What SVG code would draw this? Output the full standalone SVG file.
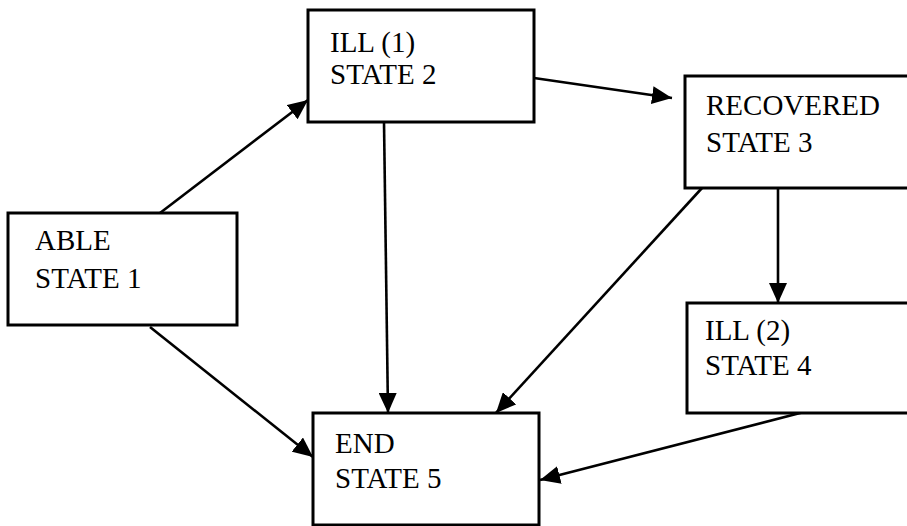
<svg xmlns="http://www.w3.org/2000/svg" width="907" height="526" viewBox="0 0 907 526">
  <style>
    .box { fill: #ffffff; stroke: #000000; stroke-width: 3; }
    .lbl { font-family: "Liberation Serif", "DejaVu Serif", serif; font-size: 29px; fill: #000000; }
    .edge { fill: none; stroke: #000000; stroke-width: 2.6; marker-end: url(#arrow); }
  </style>
  <defs>
    <marker id="arrow" viewBox="0 0 20 18" refX="20" refY="9" markerWidth="20" markerHeight="18" markerUnits="userSpaceOnUse" orient="auto">
      <path d="M0,0 L20,9 L0,18 z" fill="#000000"/>
    </marker>
  </defs>
  <rect width="907" height="526" fill="#ffffff"/>

  <g id="connectors">
    <line class="edge" x1="160" y1="213" x2="308" y2="100"/>
    <line class="edge" x1="150" y1="327" x2="313" y2="457"/>
    <line class="edge" x1="384" y1="122" x2="388" y2="413"/>
    <line class="edge" x1="534" y1="78" x2="672" y2="98"/>
    <line class="edge" x1="702" y1="188" x2="496" y2="413"/>
    <line class="edge" x1="778" y1="188" x2="778" y2="303"/>
    <line class="edge" x1="804" y1="412" x2="540" y2="480"/>
  </g>

  <g id="able">
    <rect class="box" x="8" y="213" width="229" height="112"/>
    <text class="lbl" font-family="Liberation Serif, serif" x="35" y="250">ABLE</text>
    <text class="lbl" font-family="Liberation Serif, serif" x="35" y="288">STATE 1</text>
  </g>

  <g id="ill1">
    <rect class="box" x="308" y="10" width="226" height="112"/>
    <text class="lbl" font-family="Liberation Serif, serif" x="330" y="52">ILL (1)</text>
    <text class="lbl" font-family="Liberation Serif, serif" x="330" y="84">STATE 2</text>
  </g>

  <g id="recovered">
    <rect class="box" x="685" y="76" width="240" height="112"/>
    <text class="lbl" font-family="Liberation Serif, serif" x="706" y="115">RECOVERED</text>
    <text class="lbl" font-family="Liberation Serif, serif" x="706" y="152">STATE 3</text>
  </g>

  <g id="ill2">
    <rect class="box" x="687" y="303" width="240" height="110"/>
    <text class="lbl" font-family="Liberation Serif, serif" x="705" y="340">ILL (2)</text>
    <text class="lbl" font-family="Liberation Serif, serif" x="705" y="375">STATE 4</text>
  </g>

  <g id="end">
    <rect class="box" x="313" y="413" width="226" height="112"/>
    <text class="lbl" font-family="Liberation Serif, serif" x="335" y="453">END</text>
    <text class="lbl" font-family="Liberation Serif, serif" x="335" y="488">STATE 5</text>
  </g>
</svg>
